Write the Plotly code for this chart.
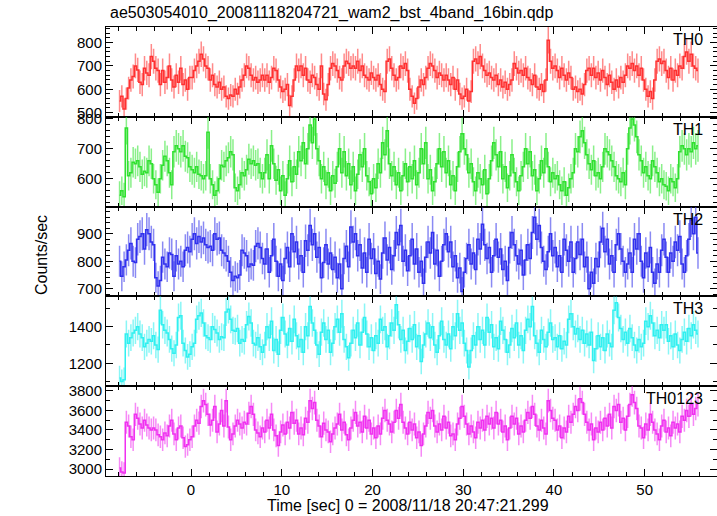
import numpy as np
import plotly.graph_objects as go
from plotly.subplots import make_subplots

BIN = 0.25
T_START = -8.0

th0 = [
    550, 570, 515, 560, 605, 640, 655, 700, 683, 630, 620, 690, 670, 660, 740, 720,
    690, 680, 620, 680, 630, 650, 700, 640, 610, 660, 630, 690, 620, 640, 600, 650,
    650, 680, 700, 720, 750, 730, 700, 690, 640, 660, 620, 610, 630, 600, 610, 570,
    560, 575, 570, 600, 580, 610, 640, 660, 700, 690, 660, 640, 650, 630, 640, 660,
    640, 660, 630, 650, 690, 680, 640, 610, 590, 600, 620, 530, 570, 640, 700, 680,
    700, 660, 690, 640, 630, 660, 650, 620, 600, 700, 580, 555, 620, 690, 710, 700,
    680, 650, 640, 700, 720, 710, 690, 700, 690, 720, 680, 700, 660, 650, 640, 670,
    650, 640, 660, 620, 600, 590, 720, 730, 690, 660, 640, 650, 700, 690, 710, 680,
    600, 570, 540, 560, 610, 640, 620, 650, 690, 710, 700, 680, 650, 670, 660, 640,
    660, 640, 620, 650, 600, 640, 580, 560, 570, 600, 550, 590, 720, 730, 710, 740,
    700, 680, 660, 670, 650, 640, 660, 620, 640, 610, 630, 600, 620, 640, 710, 690,
    670, 680, 660, 690, 650, 640, 620, 660, 610, 600, 620, 590, 640, 810, 720, 690,
    700, 680, 650, 690, 660, 640, 670, 650, 600, 610, 590, 600, 580, 620, 680, 690,
    660, 690, 650, 670, 640, 680, 650, 620, 660, 630, 600, 640, 610, 650, 630, 660,
    700, 690, 710, 680, 700, 660, 690, 640, 600, 570, 590, 560, 640, 720, 730, 710,
    720, 680, 650, 690, 640, 680, 660, 700, 690, 740, 760, 720, 750, 700, 690, 680,
]

th1 = [
    545, 560, 540, 770, 610, 620, 655, 650, 660, 640, 615, 625, 620, 660, 650, 600,
    580, 555, 600, 645, 675, 660, 620, 580, 690, 710, 700, 690, 710, 675, 670, 640,
    630, 620, 640, 615, 610, 600, 610, 755, 600, 580, 545, 560, 600, 645, 640, 660,
    670, 690, 680, 570, 560, 580, 620, 610, 630, 665, 650, 660, 645, 650, 620, 600,
    620, 680, 600, 710, 650, 595, 630, 560, 610, 545, 600, 660, 590, 640, 615, 690,
    660, 720, 650, 700, 780, 720, 800, 700, 660, 600, 640, 580, 620, 560, 610, 585,
    640, 700, 620, 690, 610, 650, 580, 640, 560, 615, 680, 640, 700, 610, 590, 550,
    600, 570, 650, 620, 720, 680, 760, 650, 610, 640, 580, 620, 560, 610, 650, 590,
    640, 600, 660, 580, 620, 700, 650, 720, 600, 630, 560, 590, 650, 700, 640, 690,
    620, 660, 580, 610, 560, 640, 690, 750, 700, 680, 620, 650, 590, 560, 620, 600,
    580, 630, 550, 600, 660, 720, 680, 640, 690, 600, 640, 570, 610, 680, 620, 590,
    560, 610, 640, 700, 650, 690, 610, 630, 560, 600, 660, 620, 700, 640, 590, 620,
    600, 610, 580, 560, 590, 545, 570, 600, 620, 700, 690, 740, 760, 720, 680, 650,
    630, 660, 610, 620, 600, 640, 700, 690, 680, 660, 640, 610, 600, 590, 620, 580,
    700, 770, 800, 780, 740, 680, 660, 620, 640, 610, 600, 660, 640, 620, 590, 600,
    580, 575, 560, 600, 590, 570, 600, 690, 710, 700, 680, 700, 690, 720, 700, 710,
]

th2 = [
    800, 745, 780, 805, 840, 865, 800, 795, 880, 890, 900, 845, 915, 900, 870, 860,
    740, 710, 730, 815, 790, 780, 830, 825, 745, 820, 790, 800, 780, 840, 850, 835,
    880, 900, 865, 890, 870, 885, 860, 850, 855, 840, 900, 880, 885, 840, 830, 820,
    800, 760, 730, 745, 740, 750, 840, 830, 820, 780, 790, 785, 855, 865, 850, 810,
    790, 845, 760, 820, 880, 800, 745, 790, 730, 810, 850, 780, 900, 835, 870, 790,
    820, 760, 875, 840, 930, 860, 900, 815, 850, 740, 795, 860, 790, 830, 770, 815,
    740, 790, 700, 810, 855, 780, 925, 870, 900, 820, 860, 775, 830, 760, 880, 810,
    845, 755, 800, 735, 830, 885, 805, 850, 770, 820, 905, 860, 930, 800, 840, 765,
    820, 880, 790, 845, 760, 800, 720, 815, 870, 830, 905, 790, 840, 745, 800, 860,
    900, 835, 870, 780, 820, 740, 775, 690, 760, 810, 860, 790, 830, 770, 880, 845,
    935, 860, 810, 850, 760, 820, 880, 815, 845, 770, 800, 730, 850, 905, 860, 820,
    790, 840, 750, 805, 860, 810, 905, 960, 880, 930, 850, 800, 770, 835, 900, 820,
    850, 780, 820, 760, 880, 840, 800, 870, 760, 810, 870, 825, 880, 780, 815, 700,
    760, 720, 810, 780, 870, 920, 835, 880, 790, 820, 760, 860, 900, 845, 800, 760,
    790, 830, 760, 880, 845, 900, 800, 740, 830, 780, 850, 760, 720, 790, 760, 840,
    880, 815, 760, 830, 800, 870, 840, 890, 790, 760, 820, 880, 950, 900, 960, 830,
]

th3 = [
    1120, 1100, 1110, 1360, 1310, 1340, 1365, 1380, 1400, 1360, 1340, 1290, 1310, 1330, 1320, 1350,
    1300, 1275, 1490, 1410, 1380, 1365, 1330, 1280, 1255, 1300, 1450, 1460, 1310, 1270, 1235, 1250,
    1290, 1310, 1440, 1460, 1475, 1420, 1350, 1340, 1330, 1400, 1385, 1365, 1330, 1345, 1340, 1480,
    1495, 1440, 1380, 1375, 1390, 1310, 1330, 1320, 1410, 1455, 1420, 1310, 1300, 1340, 1290, 1260,
    1300, 1400, 1340, 1430, 1270, 1330, 1250, 1380, 1450, 1360, 1300, 1390, 1320, 1440, 1350, 1290,
    1330, 1260, 1400, 1350, 1510, 1420, 1380, 1300, 1250, 1370, 1420, 1330, 1380, 1260, 1310, 1400,
    1440, 1370, 1470, 1330, 1290, 1230, 1310, 1380, 1340, 1420, 1300, 1370, 1450, 1360, 1290, 1340,
    1270, 1350, 1310, 1440, 1380, 1400, 1290, 1350, 1420, 1380, 1520, 1410, 1330, 1380, 1270, 1320,
    1390, 1330, 1410, 1290, 1350, 1210, 1300, 1360, 1420, 1340, 1400, 1300, 1260, 1350, 1430, 1330,
    1300, 1360, 1280, 1400, 1350, 1470, 1380, 1420, 1310, 1270, 1180, 1270, 1350, 1300, 1400, 1330,
    1380, 1300, 1450, 1370, 1410, 1290, 1340, 1280, 1430, 1380, 1330, 1260, 1300, 1390, 1340, 1420,
    1300, 1350, 1270, 1380, 1440, 1400, 1510, 1350, 1310, 1260, 1380, 1330, 1290, 1370, 1420, 1330,
    1340, 1290, 1350, 1280, 1320, 1300, 1440, 1470, 1400, 1360, 1390, 1330, 1380, 1310, 1360, 1300,
    1370, 1215, 1280, 1350, 1290, 1340, 1270, 1360, 1310, 1290, 1490, 1530, 1450, 1390, 1330, 1370,
    1310, 1390, 1340, 1300, 1270, 1330, 1290, 1310, 1430, 1400, 1460, 1420, 1350, 1380, 1340, 1410,
    1380, 1410, 1320, 1350, 1290, 1360, 1300, 1270, 1330, 1370, 1320, 1390, 1350, 1410, 1380, 1360,
]

th0123 = [
    3010, 2970, 2960, 3480, 3440, 3330, 3300, 3560, 3520, 3460, 3420, 3500, 3450, 3420, 3400, 3420,
    3400, 3350, 3330, 3300, 3370, 3340, 3440, 3500, 3360, 3300, 3420, 3440, 3320, 3230, 3250, 3300,
    3330, 3440, 3500, 3470, 3640, 3700, 3660, 3560, 3450, 3500, 3640, 3380, 3460, 3600, 3440, 3700,
    3430, 3300, 3360, 3440, 3500, 3460, 3420, 3480, 3460, 3570, 3640, 3560, 3400, 3370, 3330, 3420,
    3380, 3500, 3420, 3560, 3400, 3340, 3240, 3380, 3450, 3360, 3480, 3420, 3580, 3470, 3500, 3360,
    3420, 3350, 3520, 3480, 3700, 3620, 3680, 3500, 3440, 3330, 3470, 3400, 3380, 3280, 3360, 3420,
    3460, 3560, 3400, 3480, 3350, 3300, 3420, 3500, 3580, 3440, 3480, 3380, 3540, 3420, 3500, 3360,
    3420, 3320, 3440, 3360, 3520, 3600, 3500, 3460, 3380, 3480, 3600, 3520, 3660, 3480, 3420, 3360,
    3480, 3400, 3460, 3320, 3380, 3240, 3360, 3440, 3580, 3520, 3600, 3440, 3380, 3460, 3400, 3540,
    3420, 3480, 3340, 3360, 3300, 3460, 3520, 3640, 3540, 3460, 3360, 3440, 3380, 3320, 3480, 3420,
    3500, 3400, 3540, 3460, 3520, 3420, 3580, 3460, 3500, 3380, 3440, 3300, 3420, 3540, 3460, 3520,
    3360, 3440, 3380, 3500, 3580, 3520, 3640, 3560, 3440, 3400, 3500, 3420, 3360, 3700, 3600, 3520,
    3500, 3400, 3440, 3320, 3420, 3380, 3540, 3480, 3560, 3640, 3600, 3720, 3680, 3560, 3480, 3400,
    3460, 3300, 3420, 3380, 3480, 3400, 3520, 3440, 3560, 3420, 3640, 3600, 3660, 3480, 3520, 3400,
    3540, 3660, 3760, 3680, 3620, 3440, 3420, 3320, 3460, 3400, 3560, 3480, 3400, 3360, 3300, 3440,
    3500, 3380, 3420, 3340, 3480, 3420, 3460, 3380, 3540, 3500, 3600, 3540, 3660, 3560, 3620, 3660,
]

band_names = ["TH0", "TH1", "TH2", "TH3", "TH0123"]
series = [th0, th1, th2, th3, th0123]
line_colors = ["#ff3030", "#30e030", "#3030ee", "#30f0f0", "#f030f0"]
err_colors = ["rgba(255,60,60,0.6)", "rgba(60,230,60,0.6)", "rgba(60,60,235,0.6)",
              "rgba(60,240,240,0.6)", "rgba(240,60,240,0.6)"]
y_ranges = [[482, 867], [507, 807], [672, 999], [1075, 1565], [2929, 3848]]
y_major = [100, 100, 100, 200, 200]
y_minor = [20, 20, 20, 100, 100]
x_range = [-9.37, 57.97]

FONT = "Liberation Sans, Arial, Helvetica, sans-serif"

W, H = 717, 516
ML, MR, MT, MB = 106, 0, 27, 40
PW = W - ML - MR
PH = H - MT - MB

fig = make_subplots(rows=5, cols=1, shared_xaxes=True, vertical_spacing=0)

for k, vals in enumerate(series):
    v = np.asarray(vals, dtype=float)
    t = T_START + BIN * (np.arange(len(v)) + 0.5)
    err = np.sqrt(v * BIN) / BIN
    fig.add_trace(go.Scatter(
        x=t, y=v, mode="lines",
        line=dict(color=line_colors[k], width=1.5, shape="hvh"),
        error_y=dict(type="data", array=err, visible=True, width=0,
                     thickness=1.5, color=err_colors[k]),
        showlegend=False, hoverinfo="skip",
    ), row=k + 1, col=1)

    fig.update_yaxes(
        range=y_ranges[k], dtick=y_major[k], tick0=0,
        ticks="inside", ticklen=7, tickwidth=1, tickcolor="black",
        minor=dict(dtick=y_minor[k], tick0=0, ticks="inside", ticklen=4,
                   tickcolor="black", tickwidth=1),
        showline=True, linecolor="black", linewidth=1, mirror="ticks",
        showgrid=False, zeroline=False,
        tickfont=dict(family=FONT, size=15, color="black"),
        row=k + 1, col=1,
    )
    fig.update_xaxes(
        range=x_range, dtick=10, tick0=0,
        ticks="inside", ticklen=7, tickwidth=1, tickcolor="black",
        minor=dict(dtick=2, tick0=0, ticks="inside", ticklen=4,
                   tickcolor="black", tickwidth=1),
        showline=True, linecolor="black", linewidth=1, mirror="ticks",
        showgrid=False, zeroline=False,
        showticklabels=(k == 4),
        tickfont=dict(family=FONT, size=15, color="black"),
        row=k + 1, col=1,
    )


def px_to_paper(px, py):
    return (px - ML) / PW, (H - MB - py) / PH


annotations = []
tx, ty = px_to_paper(108, 13)
annotations.append(dict(text="ae503054010_20081118204721_wam2_bst_4band_16bin.qdp",
                        x=tx, y=ty, xref="paper", yref="paper",
                        xanchor="left", yanchor="middle", showarrow=False,
                        font=dict(family=FONT, size=16, color="black")))
panel_h = PH / 5
for k, name in enumerate(band_names):
    lx, ly = px_to_paper(705, MT + panel_h * k + 2)
    annotations.append(dict(text=name, x=lx, y=ly, xref="paper", yref="paper",
                            xanchor="right", yanchor="top", showarrow=False,
                            font=dict(family=FONT, size=16, color="black")))
yx, yy = px_to_paper(41, 255)
annotations.append(dict(text="Counts/sec", x=yx, y=yy, xref="paper", yref="paper",
                        xanchor="center", yanchor="middle", textangle=-90,
                        showarrow=False, font=dict(family=FONT, size=16, color="black")))
xx, xy = px_to_paper(408, 506)
annotations.append(dict(text="Time [sec] 0 = 2008/11/18 20:47:21.299", x=xx, y=xy,
                        xref="paper", yref="paper", xanchor="center", yanchor="middle",
                        showarrow=False, font=dict(family=FONT, size=16, color="black")))

fig.update_layout(
    width=W, height=H,
    margin=dict(l=ML, r=MR, t=MT, b=MB, pad=0),
    paper_bgcolor="white", plot_bgcolor="white",
    annotations=annotations,
    font=dict(family=FONT, size=15, color="black"),
)

fig.write_html(
    "out.html",
    config={"displayModeBar": False, "staticPlot": True},
    post_script="document.body.style.margin='0';document.body.style.padding='0';"
                "document.body.style.overflow='hidden';",
)
